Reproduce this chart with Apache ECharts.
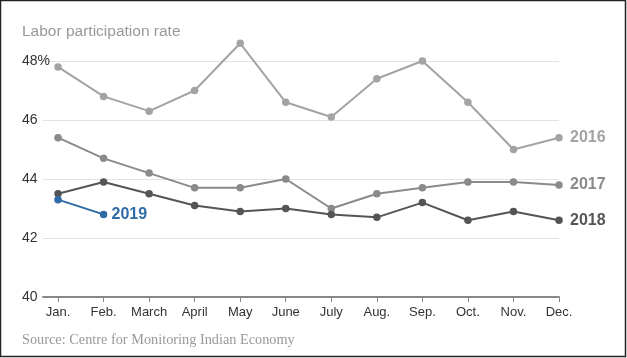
<!DOCTYPE html>
<html><head><meta charset="utf-8">
<script src="https://cdn.jsdelivr.net/npm/echarts@6/dist/echarts.min.js"></script>
<style>html,body{margin:0;padding:0;background:#fff}#c{width:627px;height:358px}</style>
</head><body><div id="c"></div>
<script>
const months = ['Jan.','Feb.','March','April','May','June','July','Aug.','Sep.','Oct.','Nov.','Dec.'];
const yTicks = [40, 42, 44, 46, 48];
const s2016 = [47.8, 46.8, 46.3, 47.0, 48.6, 46.6, 46.1, 47.4, 48.0, 46.6, 45.0, 45.4];
const s2017 = [45.4, 44.7, 44.2, 43.7, 43.7, 44.0, 43.0, 43.5, 43.7, 43.9, 43.9, 43.8];
const s2018 = [43.5, 43.9, 43.5, 43.1, 42.9, 43.0, 42.8, 42.7, 43.2, 42.6, 42.9, 42.6];
const s2019 = [43.3, 42.8];
const seriesNames = ['2016', '2017', '2018', '2019'];
const seriesColors = ['#a3a3a3', '#8a8a8a', '#555555', '#2f6ba6'];

const chart = echarts.init(document.getElementById('c'));
const idx = months.map((m, i) => i);
function mk(name, vals, color, z, dist) {
  return {
    name: name, type: 'line', z: z, clip: false,
    data: vals.map((v, i) => [i, v]),
    symbol: 'circle', symbolSize: 7.5,
    lineStyle: { width: 2, color: color },
    itemStyle: { color: color },
    endLabel: {
      show: true, formatter: name, distance: dist,
      color: color, fontSize: 16, fontWeight: 'bold', fontFamily: 'Liberation Sans'
    },
    emphasis: { disabled: true },
    animation: false
  };
}
chart.setOption({
  animation: false,
  grid: { left: 43, right: 68, top: 61, bottom: 61 },
  title: [
    { text: 'Labor participation rate', left: 22, top: 24, padding: 0,
      textStyle: { color: '#999', fontSize: 15.5, fontWeight: 'normal', fontFamily: 'Liberation Sans' } },
    { text: 'Source: Centre for Monitoring Indian Economy', left: 22, top: 333, padding: 0,
      textStyle: { color: '#999', fontSize: 14.3, fontWeight: 'normal', fontFamily: 'Liberation Serif' } }
  ],
  graphic: [{ type: 'rect', shape: { x: 0.5, y: 0.5, width: 625, height: 356 },
    style: { fill: 'none', stroke: '#222', lineWidth: 1.5 }, silent: true }],
  xAxis: {
    type: 'value', min: -0.33, max: 11,
    axisLine: { show: true, lineStyle: { color: '#888', width: 2 } },
    axisTick: { show: true, customValues: idx, length: 5, lineStyle: { color: '#888', width: 1 } },
    axisLabel: { customValues: idx, formatter: v => months[Math.round(v)], color: '#333',
      fontSize: 13, fontFamily: 'Liberation Sans', margin: 9 },
    splitLine: { show: false }
  },
  yAxis: {
    type: 'value', min: 40, max: 48, interval: 2,
    axisLine: { show: false }, axisTick: { show: false },
    axisLabel: { formatter: v => yTicks.includes(v) ? (v === 48 ? v + '%' : String(v)) : '',
      color: '#333', fontSize: 14, fontFamily: 'Liberation Sans', align: 'left', margin: 21 },
    splitLine: { lineStyle: { color: '#e3e3e3', width: 1 } }
  },
  series: [
    mk(seriesNames[0], s2016, seriesColors[0], 2, 11),
    mk(seriesNames[1], s2017, seriesColors[1], 3, 11),
    mk(seriesNames[2], s2018, seriesColors[2], 4, 11),
    mk(seriesNames[3], s2019, seriesColors[3], 5, 8)
  ]
});
</script></body></html>
